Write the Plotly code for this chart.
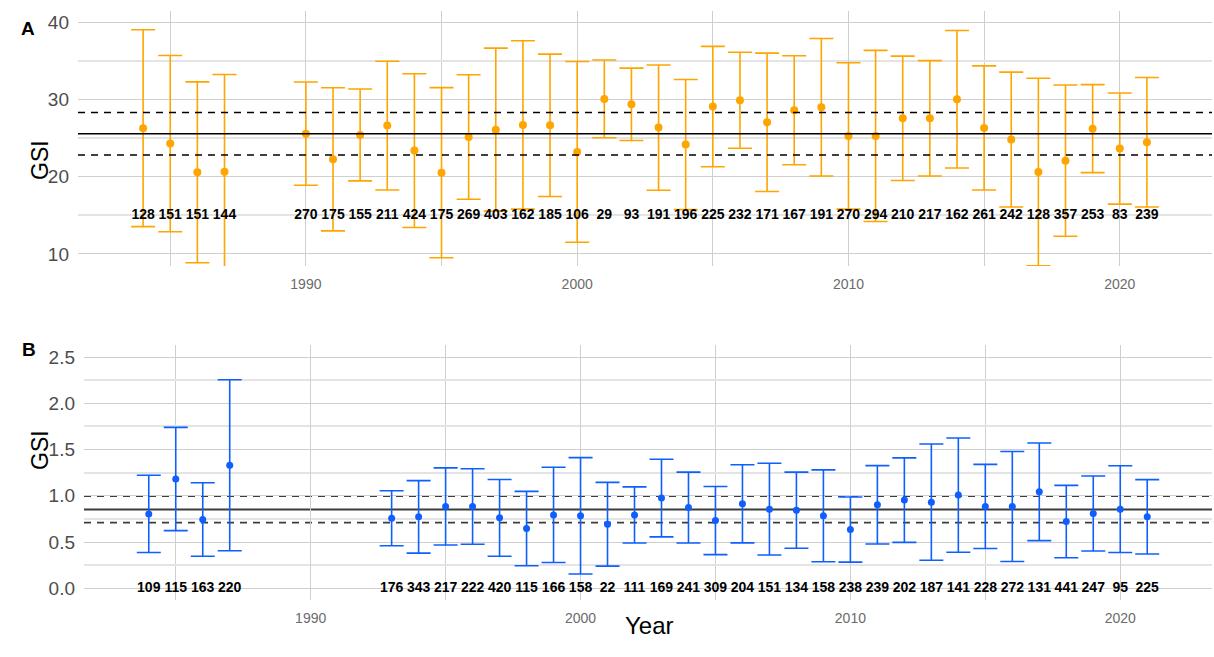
import plotly.graph_objects as go

# ---------------- Panel A data ----------------
years_a = [1984, 1985, 1986, 1987, 1990, 1991, 1992, 1993, 1994, 1995, 1996, 1997,
           1998, 1999, 2000, 2001, 2002, 2003, 2004, 2005, 2006, 2007, 2008, 2009,
           2010, 2011, 2012, 2013, 2014, 2015, 2016, 2017, 2018, 2019, 2020, 2021]
gsi_a = [26.30, 24.31, 20.59, 20.67, 25.60, 22.27, 25.43, 26.64, 23.40, 20.54, 25.17, 26.12,
         26.73, 26.68, 23.23, 30.10, 29.41, 26.38, 24.18, 29.11, 29.93, 27.07, 28.63, 29.02,
         25.30, 25.30, 27.59, 27.59, 30.06, 26.34, 24.83, 20.63, 22.10, 26.25, 23.66, 24.48]
err_a = [12.76, 11.42, 11.72, 12.59, 6.70, 9.28, 5.95, 8.35, 9.97, 11.03, 8.07, 10.57,
         10.92, 9.23, 11.72, 5.04, 4.69, 8.11, 8.43, 7.81, 6.23, 8.97, 7.07, 8.91,
         9.49, 11.09, 8.06, 7.48, 8.91, 8.04, 8.74, 12.15, 9.80, 5.71, 7.20, 8.39]
n_a = [128, 151, 151, 144, 270, 175, 155, 211, 424, 175, 269, 403,
       162, 185, 106, 29, 93, 191, 196, 225, 232, 171, 167, 191,
       270, 294, 210, 217, 162, 261, 242, 128, 357, 253, 83, 239]
mean_a = 25.60
upper_a = 28.33
lower_a = 22.84

# ---------------- Panel B data ----------------
years_b = [1984, 1985, 1986, 1987, 1993, 1994, 1995, 1996, 1997, 1998, 1999, 2000,
           2001, 2002, 2003, 2004, 2005, 2006, 2007, 2008, 2009, 2010, 2011, 2012,
           2013, 2014, 2015, 2016, 2017, 2018, 2019, 2020, 2021]
gsi_b = [0.804, 1.181, 0.743, 1.330, 0.757, 0.772, 0.884, 0.884, 0.761, 0.645, 0.793, 0.783,
         0.692, 0.793, 0.975, 0.873, 0.732, 0.913, 0.855, 0.844, 0.783, 0.634, 0.902, 0.953,
         0.931, 1.007, 0.884, 0.884, 1.043, 0.721, 0.808, 0.855, 0.772]
err_b = [0.417, 0.558, 0.397, 0.924, 0.297, 0.392, 0.417, 0.408, 0.415, 0.402, 0.515, 0.629,
         0.453, 0.303, 0.419, 0.383, 0.368, 0.422, 0.496, 0.412, 0.497, 0.352, 0.424, 0.457,
         0.629, 0.618, 0.455, 0.594, 0.528, 0.391, 0.406, 0.469, 0.402]
n_b = [109, 115, 163, 220, 176, 343, 217, 222, 420, 115, 166, 158,
       22, 111, 169, 241, 309, 204, 151, 134, 158, 238, 239, 202,
       187, 141, 228, 272, 131, 441, 247, 95, 225]
mean_b = 0.851
upper_b = 0.996
lower_b = 0.710

x_ticks = [1990, 2000, 2010, 2020]

# ---------------- Styling ----------------
W, H = 1214, 657
FONT = "Liberation Sans, Arial, sans-serif"
ORANGE = "#FFA500"
BLUE = "#0F5FFF"
LABEL_Y_A = 15
LABEL_Y_B = 0
X_RANGE = [1981.6, 2023.4]


def px_x(p):
    return p / W


def px_y(p):
    return 1 - p / H


fig = go.Figure()

# Panel A
fig.add_trace(go.Scatter(
    x=years_a, y=gsi_a, mode="markers",
    marker=dict(color=ORANGE, size=8),
    error_y=dict(type="data", array=err_a, color=ORANGE, thickness=1.6, width=12),
    xaxis="x", yaxis="y", showlegend=False))
fig.add_trace(go.Scatter(
    x=years_a, y=[LABEL_Y_A] * len(years_a), mode="text",
    text=[str(v) for v in n_a],
    textfont=dict(family=FONT, size=14, color="black", weight="bold"),
    xaxis="x", yaxis="y", showlegend=False, cliponaxis=False))

# Panel B
fig.add_trace(go.Scatter(
    x=years_b, y=gsi_b, mode="markers",
    marker=dict(color=BLUE, size=7),
    error_y=dict(type="data", array=err_b, color=BLUE, thickness=1.6, width=12),
    xaxis="x2", yaxis="y2", showlegend=False))
fig.add_trace(go.Scatter(
    x=years_b, y=[LABEL_Y_B] * len(years_b), mode="text",
    text=[str(v) for v in n_b],
    textfont=dict(family=FONT, size=14, color="black", weight="bold"),
    xaxis="x2", yaxis="y2", showlegend=False, cliponaxis=False))

shapes = []
for val, dash in [(mean_a, "solid"), (upper_a, "7px,6px"), (lower_a, "7px,6px")]:
    shapes.append(dict(type="line", xref="x domain", yref="y", x0=0, x1=1, y0=val, y1=val,
                       line=dict(color="black", width=1.5, dash=dash), layer="above"))
for val, dash, w in [(mean_b, "solid", 2), (upper_b, "7px,6px", 1.6), (lower_b, "7px,6px", 1.6)]:
    shapes.append(dict(type="line", xref="x2 domain", yref="y2", x0=0, x1=1, y0=val, y1=val,
                       line=dict(color="#3c3c3c", width=w, dash=dash), layer="below"))

grid_major = "#CFCFCF"
grid_minor = "#E4E4E4"

xaxis_common = dict(
    range=X_RANGE, tickvals=x_ticks, showgrid=True, gridcolor=grid_major, gridwidth=1.4,
    zeroline=False, showline=False, ticks="",
    tickfont=dict(family=FONT, size=14, color="#6b6b6b"), ticklabelstandoff=8,
    minor=dict(dtick=5, tick0=1985, showgrid=True, gridcolor=grid_major, gridwidth=1.0),
)

fig.update_layout(
    width=W, height=H,
    margin=dict(l=0, r=0, t=0, b=0),
    paper_bgcolor="white", plot_bgcolor="white",
    font=dict(family=FONT),
    shapes=shapes,
    xaxis=dict(domain=[px_x(78), px_x(1212)], anchor="y", **xaxis_common),
    yaxis=dict(domain=[px_y(266), px_y(11)], anchor="x", range=[8.44, 41.5],
               tickvals=[10, 20, 30, 40], showgrid=True, gridcolor=grid_major, gridwidth=1.4,
               zeroline=False, showline=False, ticks="",
               tickfont=dict(family=FONT, size=19, color="#4d4d4d"), ticklabelstandoff=8,
               minor=dict(tickvals=[15, 25, 35], showgrid=True, gridcolor=grid_minor, gridwidth=2)),
    xaxis2=dict(domain=[px_x(84), px_x(1212)], anchor="y2", **xaxis_common),
    yaxis2=dict(domain=[px_y(600), px_y(345)], anchor="x2", range=[-0.127, 2.63],
                tickvals=[0, 0.5, 1.0, 1.5, 2.0, 2.5], ticktext=["0.0", "0.5", "1.0", "1.5", "2.0", "2.5"],
                showgrid=True, gridcolor=grid_major, gridwidth=1.4,
                zeroline=False, showline=False, ticks="",
                tickfont=dict(family=FONT, size=19, color="#4d4d4d"), ticklabelstandoff=8,
                minor=dict(tickvals=[0.25, 0.75, 1.25, 1.75, 2.25], showgrid=True,
                           gridcolor=grid_minor, gridwidth=2)),
    annotations=[
        dict(text="<b>A</b>", x=px_x(19), y=px_y(16), xref="paper", yref="paper",
             showarrow=False, font=dict(family=FONT, size=19, color="black")),
        dict(text="<b>B</b>", x=px_x(19.5), y=px_y(349.5), xref="paper", yref="paper",
             showarrow=False, font=dict(family=FONT, size=19, color="black")),
        dict(text="GSI", x=px_x(25), y=px_y(138), xref="paper", yref="paper", textangle=-90,
             showarrow=False, font=dict(family=FONT, size=23, color="black")),
        dict(text="GSI", x=px_x(25), y=px_y(472), xref="paper", yref="paper", textangle=-90,
             showarrow=False, font=dict(family=FONT, size=23, color="black")),
        dict(text="Year", x=px_x(650), y=px_y(641), xref="paper", yref="paper",
             showarrow=False, font=dict(family=FONT, size=24, color="black")),
    ],
)

fig.write_html("out.html")
